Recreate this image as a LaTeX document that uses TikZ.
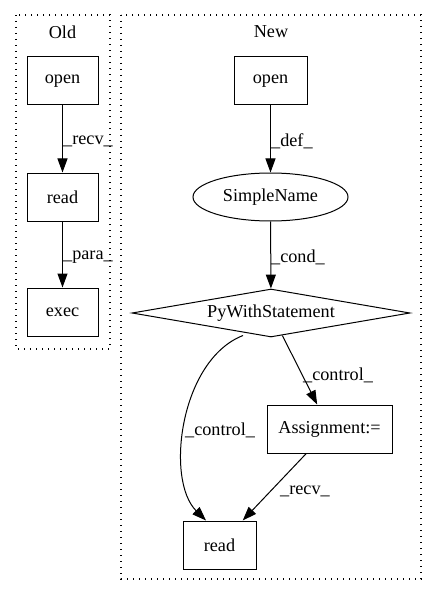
\documentclass[tikz,border=0pt]{standalone}
\usepackage{fontspec}
\setmainfont{Liberation Serif}
\usetikzlibrary{arrows.meta,shapes.geometric,calc}
\begin{document}
\begin{tikzpicture}[x=1pt,y=-1pt,
  every node/.style={font=\fontsize{18.2pt}{21pt}\selectfont, inner sep=0pt},
  box/.style={draw, line width=1pt, minimum height=48pt},
  cluster/.style={draw, line width=1.3pt, dash pattern=on 1.3pt off 4.7pt},
  edge/.style={line width=1pt, -{Triangle[length=14pt,width=10pt]}},
  lbl/.style={anchor=west}]
\useasboundingbox (0,0) rectangle (436,596);
% clusters
\draw[cluster] (16,15) rectangle (110,349);
\draw[cluster] (121,15) rectangle (421,579);
\node (oldlbl) at (62.5,32) {Old};
\node (newlbl) at (271,32) {New};
% Old nodes
\node[box, minimum width=71pt] (oopen) at (62.5,81) {open};
\node[box, minimum width=71pt] (oread) at (62.5,197) {read};
\node[box, minimum width=71pt] (oexec) at (62.5,312) {exec};
% New nodes
\node[box, minimum width=73pt] (nopen) at (270.5,81) {open};
\node[draw, line width=1pt, ellipse, minimum width=155pt, minimum height=48pt] (sn) at (270.5,197) {SimpleName};
\node[draw, line width=1pt, diamond, shape aspect=5.8, minimum width=278pt, minimum height=48pt] (py) at (271,313) {PyWithStatement};
\node[box, minimum width=125pt] (asg) at (329.5,429) {Assignment:=};
\node[box, minimum width=73pt] (rd) at (219.5,545) {read};
% Old edges
\draw[edge] (oopen) -- (oread);
\draw[edge] (oread) -- (oexec);
\node[lbl] (l1) at (63,141) {\_recv\_};
\node[lbl] (l2) at (63,257) {\_para\_};
% New edges
\draw[edge] (nopen) -- (sn);
\draw[edge] (sn) -- (py);
\draw[edge] (py) -- (asg);
\draw[edge] (asg) -- (rd);
\draw[edge] ($(py.south)+(-28,-2)$) .. controls (180,360) and (165,480) .. ($(rd.north)+(-13.5,0)$);
\node[lbl] (l3) at (271,141) {\_def\_};
\node[lbl] (l4) at (271,257) {\_cond\_};
\node[lbl] (l5) at (303,375) {\_control\_};
\node[lbl] (l6) at (185,430) {\_control\_};
\node[lbl] (l7) at (280,491) {\_recv\_};
\end{tikzpicture}
\end{document}
